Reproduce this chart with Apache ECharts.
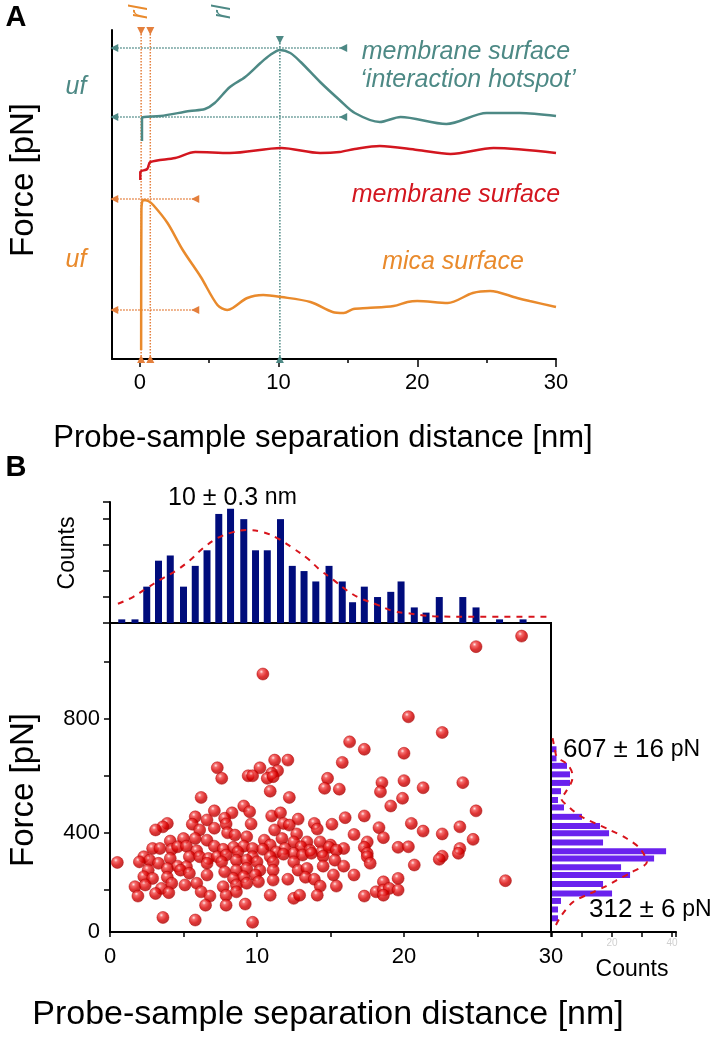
<!DOCTYPE html>
<html>
<head>
<meta charset="utf-8">
<script src="https://cdn.jsdelivr.net/npm/echarts@6/dist/echarts.min.js"></script>
<style>
  html, body { margin: 0; padding: 0; background: #fff; }
  #chart { width: 718px; height: 1040px; }
</style>
</head>
<body>
<div id="chart"></div>
<script>
// ---- Panel A: force curves, [separation nm, force (arb. units)]
const hotspotCurve = [[0.16,218],[0.16,241],[0.32,242],[1.5,243],[3.6,248],[4.7,250],[5.4,256],[6.5,272],[7.6,282],[8.7,296],[9.4,304],[10.1,309],[10.85,306],[11.6,297],[13.0,277],[14.4,259],[15.5,246],[17.3,237],[18.8,242],[22.1,235],[25.0,246],[27.4,246],[30,243]];
const membraneCurve = [[0.04,179],[0.04,187],[0.54,190],[0.76,197],[2.56,201],[4.0,207],[6.5,206],[10.2,211],[13.0,206],[14.4,207],[15.5,210],[17.3,213],[20,209],[22.4,205],[25.5,211],[30,206]];
const micaCurve = [[0.1,9],[0.12,149],[0.25,159],[0.6,158],[0.97,154],[2.0,136],[3.1,109],[4.4,82],[5.6,54],[6.3,49],[6.7,51],[7.75,61],[8.9,64],[10.2,62],[12.3,57],[13.9,47],[14.7,46],[15.4,50],[16.4,51],[18.3,53],[19.3,57],[20.0,58],[22.2,56],[24.0,66],[25.25,68],[27.2,61],[28.1,58],[30,52]];

// dotted guides: unbinding force levels (uf) and rupture lengths (rl)
const hotspotLevels = [311, 242];
const hotspotLevelSpan = [-1.84, 14.66];
const hotspotRl = [10.1];
const hotspotRlTop = 319;
const micaLevels = [160, 49];
const micaLevelSpan = [-1.84, 4.0];
const micaRl = [0.1, 0.76];
const micaRlTop = 328;

const xTicksA = [0, 10, 20, 30];
const xMinorA = [5, 15, 25];

// ---- Panel B: separation histogram
const sepBins = [0.8,1.7,2.5,3.3,4.1,5.0,5.8,6.6,7.4,8.2,9.1,9.9,10.7,11.6,12.4,13.2,14.0,14.9,15.8,16.5,17.3,18.2,19.1,19.8,20.7,21.5,22.4,24.0,24.9,26.5,28.1];
const sepCounts = [0.7,0.7,7,12,13,7,11,14,21,22,20,14,14,20,11,10,8,11,8,4,7,5,6,8,3,2,5,5,3,0.7,0.7];
const sepFit = [[0.54,3.7],[1.56,5],[2.5,6.7],[3.4,8.3],[4.56,10.2],[5.44,12.1],[6.33,14.4],[7.28,16.3],[8.37,17.5],[9.32,17.9],[10.4,17.5],[11.4,16.3],[12.45,14.4],[13.4,12.5],[14.3,10.2],[15.2,8.3],[16.1,6.3],[17.0,4.8],[18.2,3.5],[19.25,2.3],[20.2,1.9],[22.0,1.3],[24.3,1.2],[29.9,1.2]];

// ---- Panel B: force histogram [force pN] -> counts
const forceBins = [694,662,636,606,576,547,516,490,457,425,399,367,336,311,280,253,221,188,162,132,101];
const forceCounts = [1.5,1.5,5,6,6,3,2,4,10,16,19,17,38,34,23,26,17,20,3,2,2];
const forceFit = [[0.2,733],[1.0,691],[1.6,668],[5.3,639],[6.8,604],[6.7,586],[4.3,540],[3.0,523],[6.0,488],[9.9,457],[19.3,411],[24.9,381],[29.3,346],[31.6,299],[26,260],[21.6,235],[17.7,212],[12.7,188],[7.1,159],[3.2,112],[1.0,71]];

// ---- Panel B: scatter [separation nm, force pN]
const scatterPoints = [
[10.4,958],[20.3,808],[16.3,720],[17.3,694],[20.0,680],[12.1,656],[11.2,656],[15.8,648],[7.3,629],[10.2,629],
[11.4,619],[11.0,610],[9.4,601],[9.7,601],[10.7,592],[11.1,598],[7.6,592],[14.8,592],[14.6,557],[15.6,554],
[18.5,577],[18.4,545],[20.0,584],[21.3,559],[10.9,547],[6.2,525],[12.2,525],[19.9,522],
[19.1,495],[9.1,495],[7.1,478],[5.8,457],[8.3,471],[9.5,475],[11.0,460],[11.6,471],[12.8,449],[16.0,454],
[17.3,460],[6.6,446],[7.8,452],[7.9,432],[5.6,431],[3.9,434],[3.6,422],[3.1,411],[6.1,411],[7.1,417],
[9.6,432],[11.8,434],[12.2,428],[13.9,434],[14.1,414],[15.1,431],[20.5,434],[21.3,407],[18.3,419],[18.6,384],
[16.6,395],[8.0,401],[8.5,393],[11.2,411],[12.7,397],[11.7,381],[9.3,387],[10.5,375],[6.6,375],[5.8,381],
[5.0,381],[4.1,372],[13.4,369],[12.5,369],[14.3,369],[17.5,369],[15.0,358],[7.1,354],[8.4,350],[9.1,354],
[9.7,346],[10.9,358],[11.9,346],[13.0,352],[13.6,340],[15.9,346],[17.3,350],[19.6,350],[20.3,352],[2.9,346],
[3.4,346],[4.2,343],[4.6,352],[5.2,354],[5.9,338],[7.7,343],[8.7,334],[10.4,343],[11.3,334],[12.5,329],
[14.4,334],[14.9,350],[15.4,340],[2.3,317],[2.7,305],[4.1,311],[5.4,317],[6.1,317],[6.7,311],[7.3,317],
[7.9,323],[9.7,317],[10.9,317],[11.8,326],[13.1,323],[13.7,329],[14.5,319],[15.3,305],[17.5,329],[17.5,317],
[17.7,294],[0.5,297],[2.0,299],[3.3,294],[4.6,284],[5.2,282],[6.6,294],[7.6,299],[8.6,305],[9.3,305],
[10.0,299],[11.1,299],[12.5,299],[14.5,284],[15.9,284],[20.7,288],[2.6,270],[3.9,276],[4.8,270],[5.4,259],
[6.6,253],[7.8,264],[8.6,270],[9.3,276],[10.2,270],[11.1,270],[12.8,270],[13.4,276],[15.2,253],[16.6,253],
[2.3,247],[2.9,241],[3.9,245],[8.4,241],[9.1,247],[9.9,253],[11.1,235],[12.1,238],[13.3,245],[13.9,238],
[19.6,241],[18.6,229],[1.7,212],[2.4,218],[3.5,206],[4.2,224],[5.1,218],[5.9,224],[7.7,212],[8.6,218],
[9.3,224],[10.1,229],[14.3,214],[15.4,214],[18.1,194],[18.6,200],[19.0,206],[19.6,200],[1.9,179],[3.1,188],
[4.0,191],[6.2,194],[6.8,179],[7.9,182],[8.6,194],[10.9,182],[12.5,171],[12.9,182],[14.1,182],[17.3,179],
[18.6,182],[6.5,147],[7.9,147],[9.2,151],[3.6,104],[5.8,95],[9.7,87],
[24.0,577],[24.9,478],[22.6,397],[23.8,422],[24.7,378],[23.8,346],[23.7,329],[22.6,319],[22.4,308],[26.9,233],
[28.0,1091],[24.9,1054],[22.6,753]
];

const forceMin = 53, forceMax = 1137;
const forceTicks = [200, 400, 600, 800, 1000];
const forceTickLabels = [forceMin, 400, 800];
const sepTicksB = [0, 10, 20, 30];

const FONT = '"Liberation Sans", Arial, sans-serif';
const TEAL = '#4d8985', RED = '#d3161f', ORANGE = '#e98a2c', DOT_OR = '#e47f3c';

const chart = echarts.init(document.getElementById('chart'));

function guide(points, color, rotations) {
  return {
    type: 'line', xAxisIndex: 0, yAxisIndex: 0, silent: true, z: 1,
    data: points.map((p, i) => ({ value: p, symbolRotate: rotations[i] })),
    symbol: 'triangle', symbolSize: 8, showSymbol: true,
    lineStyle: { color: color, width: 1.5, type: 'dotted' },
    itemStyle: { color: color }
  };
}

const guides = [];
hotspotLevels.forEach(y => guides.push(guide([[hotspotLevelSpan[0], y], [hotspotLevelSpan[1], y]], TEAL, [90, 90])));
hotspotRl.forEach(x => guides.push(guide([[x, hotspotRlTop], [x, 0]], TEAL, [180, 0])));
micaLevels.forEach(y => guides.push(guide([[micaLevelSpan[0], y], [micaLevelSpan[1], y]], DOT_OR, [90, 90])));
micaRl.forEach(x => guides.push(guide([[x, micaRlTop], [x, 0]], DOT_OR, [180, 0])));

function curve(data, color) {
  return { type: 'line', xAxisIndex: 0, yAxisIndex: 0, data: data, smooth: 0.3, showSymbol: false, z: 3,
    lineStyle: { color: color, width: 2.5 } };
}

function txt(x, y, text, size, color, opts) {
  return Object.assign({
    type: 'text', x: x, y: y,
    style: Object.assign({ text: text, font: (opts && opts.font) || (size + 'px ' + FONT), fill: color || '#000',
      textAlign: 'center', textVerticalAlign: 'middle', verticalAlign: 'middle' }, (opts && opts.style) || {})
  }, (opts && opts.el) || {});
}

const ball = new echarts.graphic.RadialGradient(0.38, 0.32, 0.7, [
  { offset: 0, color: '#ffe4e4' }, { offset: 0.22, color: '#f24848' },
  { offset: 0.6, color: '#d80000' }, { offset: 1, color: '#a80000' }
]);

const option = {
  animation: false,
  backgroundColor: '#fff',
  grid: [
    { left: 112, top: 30, width: 444, height: 329 },
    { left: 110, top: 502, width: 441, height: 121 },
    { left: 110, top: 623, width: 441, height: 309, show: true, borderColor: '#000', borderWidth: 2 },
    { left: 552, top: 623, width: 124, height: 309 }
  ],
  xAxis: [
    { gridIndex: 0, type: 'value', min: -2, max: 30,
      axisLine: { onZero: false, lineStyle: { color: '#000', width: 2 } },
      axisTick: { customValues: xTicksA, length: 8, lineStyle: { color: '#000', width: 1.5 } },
      axisLabel: { customValues: xTicksA, fontSize: 22, color: '#000', fontFamily: FONT, margin: 13 },
      splitLine: { show: false } },
    { gridIndex: 0, type: 'value', min: -2, max: 30, position: 'bottom',
      axisLine: { show: false, onZero: false },
      axisTick: { customValues: xMinorA, length: 4, lineStyle: { color: '#000', width: 1.5 } },
      axisLabel: { show: false }, splitLine: { show: false } },
    { gridIndex: 1, type: 'value', min: 0, max: 30, show: false },
    { gridIndex: 2, type: 'value', min: 0, max: 30, interval: 5,
      axisLine: { onZero: false, lineStyle: { color: '#000', width: 2 } },
      axisTick: { length: 5, lineStyle: { color: '#000', width: 1.5 } },
      axisLabel: { customValues: sepTicksB, fontSize: 22, color: '#000', fontFamily: FONT, margin: 14 },
      splitLine: { show: false } },
    { gridIndex: 3, type: 'value', min: 0, max: 41.3, interval: 10,
      axisLine: { onZero: false, lineStyle: { color: '#000', width: 2 } },
      axisTick: { length: 5, lineStyle: { color: '#000', width: 1.5 } },
      axisLabel: { customValues: [20, 40], fontSize: 10, color: '#d0d0d0', fontFamily: FONT, margin: 6 },
      splitLine: { show: false } }
  ],
  yAxis: [
    { gridIndex: 0, type: 'value', min: 0, max: 329,
      axisLine: { show: true, onZero: false, lineStyle: { color: '#000', width: 2 } },
      axisTick: { show: false }, axisLabel: { show: false }, splitLine: { show: false } },
    { gridIndex: 1, type: 'value', min: 0, max: 23.3, interval: 5,
      axisLine: { show: true, onZero: false, lineStyle: { color: '#000', width: 2 } },
      axisTick: { show: true, length: 7, lineStyle: { color: '#000', width: 1.5 } },
      axisLabel: { show: false }, splitLine: { show: false } },
    { gridIndex: 2, type: 'value', min: forceMin, max: forceMax,
      axisLine: { show: true, onZero: false, lineStyle: { color: '#000', width: 2 } },
      axisTick: { show: true, customValues: forceTicks, length: 6, lineStyle: { color: '#000', width: 1.5 } },
      axisLabel: { customValues: forceTickLabels, fontSize: 22, color: '#000', fontFamily: FONT, margin: 10,
        formatter: v => (v === forceMin ? '0' : String(v)) },
      splitLine: { show: false } },
    { gridIndex: 3, type: 'value', min: forceMin, max: forceMax, show: false }
  ],
  series: [
    ...guides,
    curve(hotspotCurve, TEAL),
    curve(membraneCurve, RED),
    curve(micaCurve, ORANGE),
    { type: 'bar', xAxisIndex: 2, yAxisIndex: 1, barWidth: 7,
      data: sepBins.map((x, i) => [x, sepCounts[i]]),
      itemStyle: { color: '#000c7c' } },
    { type: 'line', xAxisIndex: 2, yAxisIndex: 1, data: sepFit, smooth: 0.4, showSymbol: false, z: 4,
      lineStyle: { color: '#d8141c', width: 2, type: [6, 6] } },
    { type: 'scatter', xAxisIndex: 3, yAxisIndex: 2, data: scatterPoints, symbol: 'circle', symbolSize: 12,
      itemStyle: { color: ball, borderColor: '#b00000', borderWidth: 0.6 } },
    { type: 'custom', xAxisIndex: 4, yAxisIndex: 3,
      data: forceBins.map((f, i) => [forceCounts[i], f]),
      encode: { x: 0, y: 1 },
      renderItem: function (params, api) {
        const p0 = api.coord([0, api.value(1)]);
        const p1 = api.coord([api.value(0), api.value(1)]);
        const h = 6;
        return { type: 'rect', shape: { x: p0[0], y: p0[1] - h / 2, width: p1[0] - p0[0], height: h },
          style: { fill: '#6a22ee' } };
      } },
    { type: 'line', xAxisIndex: 4, yAxisIndex: 3, data: forceFit, smooth: 0.3, showSymbol: false, z: 4,
      lineStyle: { color: '#d8141c', width: 2, type: [6, 6] } }
  ],
  graphic: [
    txt(16, 18, 'A', 0, '#000', { font: 'bold 29px ' + FONT }),
    txt(16, 468, 'B', 0, '#000', { font: 'bold 29px ' + FONT }),
    txt(140, 12, 'rl', 0, ORANGE, { font: 'italic 25px ' + FONT, el: { rotation: Math.PI / 2 } }),
    txt(223, 12, 'rl', 0, TEAL, { font: 'italic 25px ' + FONT, el: { rotation: Math.PI / 2 } }),
    txt(76, 87, 'uf', 0, TEAL, { font: 'italic 25px ' + FONT }),
    txt(76, 260, 'uf', 0, ORANGE, { font: 'italic 25px ' + FONT }),
    txt(466, 52, 'membrane surface', 0, TEAL, { font: 'italic 25px ' + FONT }),
    txt(468, 80, '\u2018interaction hotspot\u2019', 0, TEAL, { font: 'italic 25px ' + FONT }),
    txt(456, 195, 'membrane surface', 0, RED, { font: 'italic 25px ' + FONT }),
    txt(453, 262, 'mica surface', 0, ORANGE, { font: 'italic 25px ' + FONT }),
    txt(323, 438, 'Probe-sample separation distance [nm]', 31, '#000'),
    txt(24, 180, 'Force [pN]', 33, '#000', { el: { rotation: Math.PI / 2 } }),
    txt(328, 1015, 'Probe-sample separation distance [nm]', 34, '#000'),
    txt(24, 790, 'Force [pN]', 33, '#000', { el: { rotation: Math.PI / 2 } }),
    txt(68, 553, 'Counts', 23, '#000', { el: { rotation: Math.PI / 2 } }),
    txt(632, 970, 'Counts', 23, '#000'),
    { type: 'text', x: 168, y: 498, style: { text: '{a|10 \u00b1 0.3}  {b|nm}', textVerticalAlign: 'middle', verticalAlign: 'middle',
      rich: { a: { fontSize: 25, fontFamily: FONT, fill: '#000', color: '#000' }, b: { fontSize: 23, fontFamily: FONT, fill: '#000', color: '#000' } } } },
    { type: 'text', x: 563, y: 750, style: { text: '{a|607 \u00b1 16}  {b|pN}', textVerticalAlign: 'middle', verticalAlign: 'middle',
      rich: { a: { fontSize: 26, fontFamily: FONT, fill: '#000', color: '#000' }, b: { fontSize: 23, fontFamily: FONT, fill: '#000', color: '#000' } } } },
    { type: 'text', x: 589, y: 910, style: { text: '{a|312 \u00b1 6}  {b|pN}', textVerticalAlign: 'middle', verticalAlign: 'middle',
      rich: { a: { fontSize: 26, fontFamily: FONT, fill: '#000', color: '#000' }, b: { fontSize: 23, fontFamily: FONT, fill: '#000', color: '#000' } } } }
  ]
};

chart.setOption(option);
</script>
</body>
</html>
